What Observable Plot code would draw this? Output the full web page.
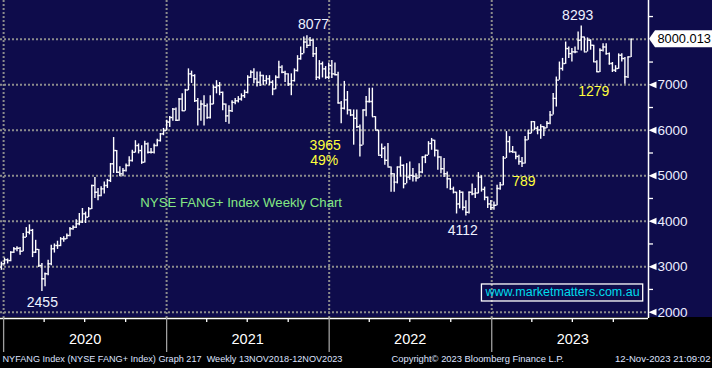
<!DOCTYPE html>
<html><head><meta charset="utf-8">
<script src="https://cdn.jsdelivr.net/npm/d3@7"></script>
<script src="https://cdn.jsdelivr.net/npm/@observablehq/plot@0.6"></script>
<style>
html,body{margin:0;padding:0;background:#000;}
#chart{width:712px;height:368px;overflow:hidden;background:linear-gradient(to bottom,#0e0c4b 0,#0e0c4b 317px,#000 317px,#000 368px);}
</style></head><body><div id="chart"></div>
<script>
// Weekly bars (Friday) starting 27 Dec 2019
const firstWeek = "2019-12-27";
const opens = [
2990,3064,3152,3136,3319,3393,3407,3341,3649,3759,3800,3319,3380,3026,2734,2844,3064,3393,3466,3466,3613,3613,3686,3833,3869,3943,3979,4163,4089,4273,4785,4638,4565,4712,4785,4895,5262,5554,5077,5042,5115,5225,5335,5517,5664,5554,5297,5701,5517,5517,5664,5774,5921,
5994,6180,6280,6465,6220,6686,6430,6886,7240,7203,6650,6465,6576,6540,6280,6576,6945,6980,6834,6576,6317,6430,6613,6650,6686,6760,6834,7166,7277,7130,7056,7203,7092,7130,7056,6908,7166,7387,7277,7240,7018,7092,7314,7572,7683,7940,7867,7978,7683,7166,7461,7350,7166,7422,7239,
7221,6600,6483,6668,6446,6336,6262,6077,5672,6446,6631,6631,6299,6004,5450,5600,5339,5192,5044,4860,5192,5229,4823,4970,5007,4990,4950,5081,5413,5450,5709,5782,5561,5413,5155,5044,4933,4712,4638,4380,4638,4306,4196,4638,4601,4620,4970,4700,4527,4380,4300,4350,4720,
4800,5387,5752,5533,5520,5423,5313,5277,5788,5934,6190,6044,6007,6080,6050,6153,6336,6700,7102,7358,7467,7796,7686,7723,7723,7978,8051,7723,7978,7869,7504,7285,7759,7832,7686,7467,7321,7358,7650,7577,7175,7613
];
const highs = [
3100,3190,3170,3330,3420,3440,3420,3730,3860,3921,3820,3580,3380,3070,2860,3140,3470,3500,3560,3640,3660,3720,3860,3900,4030,4170,4280,4200,4300,4790,4960,4720,4760,4860,4920,5270,5840,5554,5200,5160,5260,5420,5560,5770,5700,5660,5760,5720,5600,5700,5800,5930,6040,
6220,6300,6480,6490,6700,6800,6900,7350,7300,7220,6700,6650,6760,6580,6760,6980,7090,7050,6840,6580,6540,6650,6700,6740,6800,6880,7200,7310,7350,7280,7280,7210,7200,7200,7090,7200,7520,7420,7300,7240,7240,7350,7640,7830,8050,8077,8040,7990,7818,7532,7500,7400,7480,7532,7480,
7275,6631,7074,6852,6450,6446,6446,6114,6446,6742,6926,6926,6299,6004,5700,5635,5709,5192,5044,5192,5413,5240,5266,5300,5160,5044,5266,5413,5450,5750,5820,5782,5561,5420,5380,5081,4933,4750,4640,4675,4640,4450,4640,4820,4720,5070,5000,4750,4530,4455,4420,4790,4850,
5423,5970,5860,5643,5520,5450,5400,5860,6000,6190,6190,6080,6120,6080,6190,6410,6810,7170,7500,7580,7940,7830,7800,7830,8160,8293,8051,8030,7990,7870,7530,7790,7900,7900,7700,7490,7420,7680,7680,7600,7613,8005
];
const lows = [
2920,3040,3060,3110,3290,3330,3250,3330,3640,3700,3200,3290,2980,2455,2560,2800,3020,3300,3380,3440,3540,3600,3660,3800,3840,3900,3950,3950,4080,4260,4500,4450,4540,4600,4720,4850,5050,5050,4980,4980,5080,5200,5300,5500,5480,5250,5280,5480,5480,5480,5640,5740,5880,
5980,6060,6200,6190,6200,6420,6420,6870,7030,6610,6096,6200,6096,6240,6250,6560,6800,6760,6430,6170,6130,6390,6560,6600,6640,6700,6800,7140,7020,6950,6960,6980,7000,6980,6760,6890,7130,7240,7050,6960,6760,7060,7280,7540,7680,7800,7840,7600,7093,7110,7150,7120,7110,7140,7200,
6580,6145,6446,6336,6300,5672,6040,5413,5672,6299,6600,6299,6004,5450,5380,5229,5192,4638,4638,4820,4970,4712,4823,4900,4860,4860,4940,5044,5266,5450,5560,5413,5120,5044,4960,4712,4680,4600,4159,4270,4230,4112,4160,4560,4500,4600,4640,4450,4280,4235,4240,4340,4680,
4780,5380,5500,5496,5350,5230,5181,5260,5780,5920,5990,5900,5800,5860,6040,6120,6336,6510,7100,7300,7450,7580,7500,7680,7760,7740,7720,7720,7760,7490,7270,7270,7720,7650,7430,7270,7270,7340,7500,7014,7139,7600
];
const closes = [
3064,3152,3136,3319,3393,3407,3341,3649,3759,3800,3319,3380,3026,2734,2844,3064,3393,3466,3466,3613,3613,3686,3833,3869,3943,3979,4163,4089,4273,4785,4638,4565,4712,4785,4895,5262,5554,5077,5042,5115,5225,5335,5517,5664,5554,5297,5701,5517,5517,5664,5774,5921,5994,
6180,6280,6465,6220,6686,6430,6886,7240,7203,6650,6465,6576,6540,6280,6576,6945,6980,6834,6576,6317,6430,6613,6650,6686,6760,6834,7166,7277,7130,7056,7203,7092,7130,7056,6908,7166,7387,7277,7240,7018,7092,7314,7572,7683,7940,7867,7978,7683,7166,7461,7350,7166,7422,7239,7221,
6600,6483,6668,6446,6336,6262,6077,5672,6446,6631,6631,6299,6004,5450,5600,5339,5192,5044,4860,5192,5229,4823,4970,5007,4990,4950,5081,5413,5450,5709,5782,5561,5413,5155,5044,4933,4712,4638,4380,4638,4306,4196,4638,4601,4620,4970,4700,4527,4380,4300,4350,4720,4800,
5387,5752,5533,5520,5423,5313,5277,5788,5934,6190,6044,6007,6080,6050,6153,6336,6700,7102,7358,7467,7796,7686,7723,7723,7978,8051,7723,7978,7869,7504,7285,7759,7832,7686,7467,7321,7358,7650,7577,7175,7613,8000.013
];
const yGridTicks = [2000,3000,4000,5000,6000,7000,8000];
const yLabelTicks = [2000,3000,4000,5000,6000,7000];
const yMinorTicks = [2500,3500,4500,5500,6500,7500,8500];
const years = ["2020","2021","2022","2023"];
const numberNotes = [
  {text:"8077", date:"2021-11-27", value:8324, color:"#eef2ff"},
  {text:"3965", date:"2021-12-23", value:5664, color:"#ffff3c"},
  {text:"49%",  date:"2021-12-21", value:5335, color:"#ffff3c"},
  {text:"2455", date:"2020-03-28", value:2213, color:"#eef2ff"},
  {text:"4112", date:"2022-10-28", value:3796, color:"#eef2ff"},
  {text:"789",  date:"2023-03-14", value:4873, color:"#ffff3c"},
  {text:"8293", date:"2023-07-13", value:8521, color:"#eef2ff"},
  {text:"1279", date:"2023-08-18", value:6851, color:"#ffff3c"}
];
const titleNote = {text:"NYSE FANG+ Index Weekly Chart", date:"2020-11-03", value:4411};
const siteNote = {text:"www.marketmatters.com.au", date:"2023-06-09", value:2433};
const footerLeft = "NYFANG Index (NYSE FANG+ Index) Graph 217  Weekly 13NOV2018-12NOV2023";
const footerMid = "Copyright\u00A9 2023 Bloomberg Finance L.P.";
const footerRight = "12-Nov-2023 21:09:02";

const start = new Date(firstWeek);
const data = closes.map((c, i) => ({date: d3.utcDay.offset(start, 7 * i), open: opens[i], high: highs[i], low: lows[i], close: c}));
const yearStarts = years.map(y => new Date(Date.UTC(+y, 0, 1)));
const yearMids = years.map(y => new Date(Date.UTC(+y, 6, 2)));
const quarterTicks = years.flatMap(y => [3, 6, 9].map(m => new Date(Date.UTC(+y, m, 1))));
const xDomain = [new Date("2019-12-25"), new Date("2023-12-19")];
const yDomain = [1861, 8853];
const last = data[data.length - 1];
const lastLabel = last.close.toFixed(3);
const toDate = d => new Date(d.date);

const leftTriangle = {
  draw(ctx, size) {
    const s = Math.sqrt(size / Math.PI);
    ctx.moveTo(-s, 0); ctx.lineTo(s, -s * 0.85); ctx.lineTo(s, s * 0.85); ctx.closePath();
  }
};

const grid = {stroke: "#8c8c8c", strokeWidth: 2, strokeDasharray: "2,2"};
const bar = {stroke: "#ffffff", strokeWidth: 1.4};
const font = "'Liberation Sans', Arial, sans-serif";

const plot = Plot.plot({
  width: 712, height: 368,
  marginTop: 0, marginLeft: 0, marginRight: 64, marginBottom: 50,
  x: {type: "utc", domain: xDomain, axis: null},
  y: {domain: yDomain, axis: null},
  style: {background: "transparent", fontFamily: font, overflow: "visible"},
  marks: [
    Plot.ruleY(yGridTicks, grid),
    Plot.ruleX(yearStarts, grid),
    Plot.ruleX(data, {x: "date", y1: "low", y2: "high", ...bar}),
    Plot.ruleY(data, {x1: d => d3.utcHour.offset(d.date, -84), x2: "date", y: "open", ...bar}),
    Plot.ruleY(data, {x1: "date", x2: d => d3.utcHour.offset(d.date, 84), y: "close", ...bar}),
    Plot.ruleY([yDomain[0]], {stroke: "#ffffff", strokeWidth: 1.5}),
    Plot.ruleX([xDomain[1]], {stroke: "#ffffff", strokeWidth: 1.5}),
    Plot.axisX({anchor: "bottom", ticks: quarterTicks, tickSize: 4, tickFormat: () => "", stroke: "#ffffff", strokeWidth: 1.3, label: null}),
    Plot.axisX({anchor: "bottom", ticks: yearStarts, tickSize: 34, tickFormat: () => "", stroke: "#a0a0a0", strokeWidth: 1.3, label: null}),
    Plot.axisY({anchor: "right", ticks: yMinorTicks, tickSize: 4, tickFormat: () => "", stroke: "#ffffff", strokeWidth: 1.3, label: null}),
    Plot.dot(yLabelTicks, {x: () => xDomain[1], y: d => d, dx: 4, symbol: leftTriangle, r: 4, fill: "#ffffff", stroke: "none"}),
    Plot.text(yLabelTicks, {y: d => d, frameAnchor: "right", dx: 9, textAnchor: "start", text: d => String(d), fill: "#eceeff", fontSize: 13.5}),
    Plot.text(years, {x: (d, i) => yearMids[i], frameAnchor: "bottom", dy: 25, text: d => d, fill: "#ffffff", fontSize: 14.5}),
    Plot.text(numberNotes, {x: toDate, y: "value", text: "text", fill: "color", fontSize: 14}),
    Plot.text([titleNote], {x: toDate, y: "value", text: "text", fill: "#84e884", fontSize: 13.2, textAnchor: "start"}),
    Plot.text([siteNote], {x: toDate, y: "value", text: "text", fill: "#00dcec", fontSize: 12.5}),
    Plot.text([last], {y: "close", frameAnchor: "right", dx: 9, textAnchor: "start", text: () => lastLabel, fill: "#000000", fontSize: 12.8}),
    Plot.text([footerLeft], {frameAnchor: "bottom-left", dx: 2, dy: 43, textAnchor: "start", text: d => d, fill: "#dfe3ff", fontSize: 9.15}),
    Plot.text([footerMid], {frameAnchor: "bottom-left", dx: 391, dy: 43, textAnchor: "start", text: d => d, fill: "#dfe3ff", fontSize: 9.4}),
    Plot.text([footerRight], {frameAnchor: "bottom-right", dx: 62, dy: 43, textAnchor: "end", text: d => d, fill: "#dfe3ff", fontSize: 9.6})
  ]
});
document.getElementById("chart").append(plot);

// decorations derived from the rendered marks and scales
const NS = "http://www.w3.org/2000/svg";
const sRect = plot.getBoundingClientRect();
const allTexts = Array.from(plot.querySelectorAll("text"));
const findText = s => allTexts.find(t => t.textContent === s);
const yPx = plot.scale("y").apply(last.close);
const xPx = plot.scale("x").apply(xDomain[1]);
const priceText = findText(lastLabel);
if (priceText) {
  const g = priceText.parentNode;
  const poly = document.createElementNS(NS, "polygon");
  const h = 8.5;
  poly.setAttribute("points", `${xPx + 1},${yPx} ${xPx + 7},${yPx - h} 712,${yPx - h} 712,${yPx + h} ${xPx + 7},${yPx + h}`);
  poly.setAttribute("fill", "#ffffff");
  g.parentNode.insertBefore(poly, g);
}
const siteText = findText(siteNote.text);
if (siteText) {
  const r = siteText.getBoundingClientRect();
  const rect = document.createElementNS(NS, "rect");
  rect.setAttribute("x", r.left - sRect.left - 3);
  rect.setAttribute("y", r.top - sRect.top - 1.5);
  rect.setAttribute("width", r.width + 6);
  rect.setAttribute("height", r.height + 3);
  rect.setAttribute("fill", "none");
  rect.setAttribute("stroke", "#ffffff");
  rect.setAttribute("stroke-width", "1.3");
  const g = siteText.parentNode;
  g.parentNode.insertBefore(rect, g);
}
</script></body></html>
